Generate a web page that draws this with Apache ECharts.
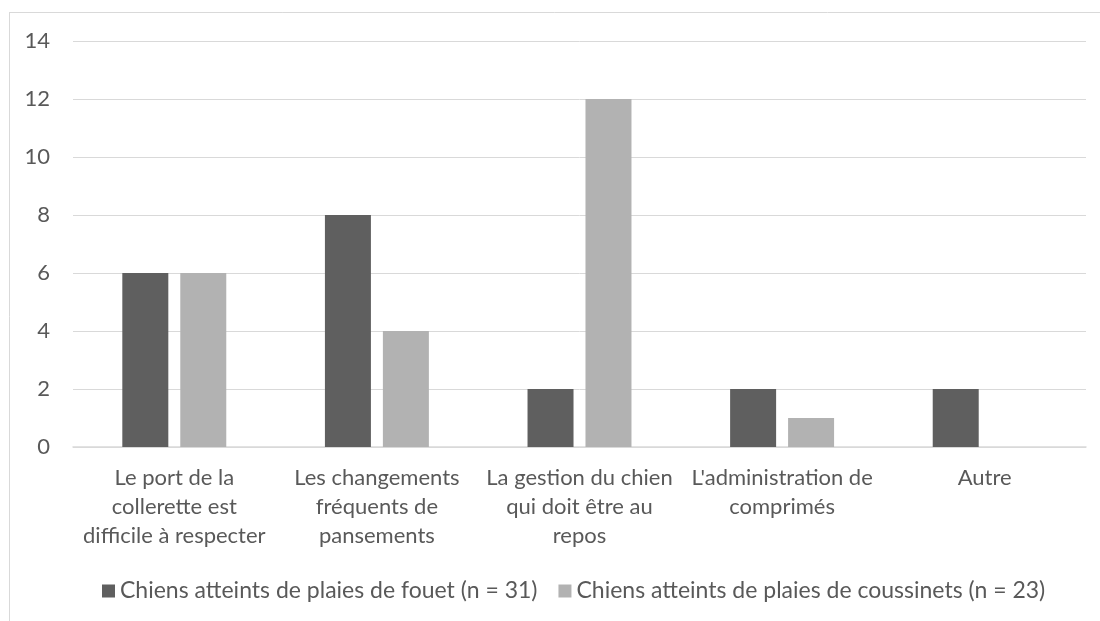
<!DOCTYPE html>
<html>
<head>
    <meta charset="utf-8">
    <title>ECharts</title>
    <script src="https://cdn.jsdelivr.net/npm/echarts@6/dist/echarts.min.js"></script>
    <style>
        html, body { margin: 0; padding: 0; background: #fff; }
    </style>
</head>
<body>
    <div id="main" style="width: 1100px;height:621px;"></div>
    <script type="text/javascript">
        // données
        var categories = [
            'Le port de la\ncollerette est\ndifficile à respecter',
            'Les changements\nfréquents de\npansements',
            'La gestion du chien\nqui doit être au\nrepos',
            "L'administration de\ncomprimés",
            'Autre'
        ];
        var seriesNames = [
            'Chiens atteints de plaies de fouet (n = 31)',
            'Chiens atteints de plaies de coussinets (n = 23)'
        ];
        var fouet = [6, 8, 2, 2, 2];
        var coussinets = [6, 4, 12, 1, 0];
        var yTicks = [0, 2, 4, 6, 8, 10, 12, 14];

        var textColor = '#595959';
        var lineColor = '#d9d9d9';
        var font = 'Lato';

        var myChart = echarts.init(document.getElementById('main'));

        var option = {
            backgroundColor: '#fff',
            animation: false,
            textStyle: { fontFamily: font },
            // cadre du graphique (bords gauche et haut visibles)
            graphic: [
                { type: 'line', shape: { x1: 9.5, y1: 12, x2: 9.5, y2: 621 }, style: { stroke: lineColor, lineWidth: 1 } },
                { type: 'line', shape: { x1: 9.5, y1: 12.5, x2: 1100, y2: 12.5 }, style: { stroke: lineColor, lineWidth: 1 } }
            ],
            grid: {
                left: 73,
                right: 14,
                top: 41,
                bottom: 174
            },
            legend: {
                left: 102,
                top: 579,
                padding: 0,
                icon: 'rect',
                itemWidth: 13,
                itemHeight: 13,
                itemGap: 21,
                data: seriesNames,
                textStyle: { color: textColor, fontSize: 23, fontFamily: font, lineHeight: 24 }
            },
            xAxis: {
                type: 'category',
                data: categories,
                axisTick: { show: false },
                axisLine: { lineStyle: { color: lineColor, width: 1.5 } },
                axisLabel: {
                    interval: 0,
                    margin: 16,
                    color: textColor,
                    fontSize: 22,
                    lineHeight: 29,
                    fontFamily: font
                }
            },
            yAxis: {
                type: 'value',
                min: yTicks[0],
                max: yTicks[yTicks.length - 1],
                interval: 2,
                axisLine: { show: false },
                axisTick: { show: false },
                splitLine: { lineStyle: { color: lineColor, width: 1 } },
                axisLabel: { color: textColor, fontSize: 22, margin: 23, fontFamily: font }
            },
            series: [
                {
                    name: seriesNames[0],
                    type: 'bar',
                    barWidth: 46,
                    barGap: '26%',
                    itemStyle: { color: '#5f5f5f' },
                    data: fouet
                },
                {
                    name: seriesNames[1],
                    type: 'bar',
                    barWidth: 46,
                    barGap: '26%',
                    itemStyle: { color: '#b2b2b2' },
                    data: coussinets
                }
            ]
        };

        myChart.setOption(option);
    </script>
</body>
</html>
